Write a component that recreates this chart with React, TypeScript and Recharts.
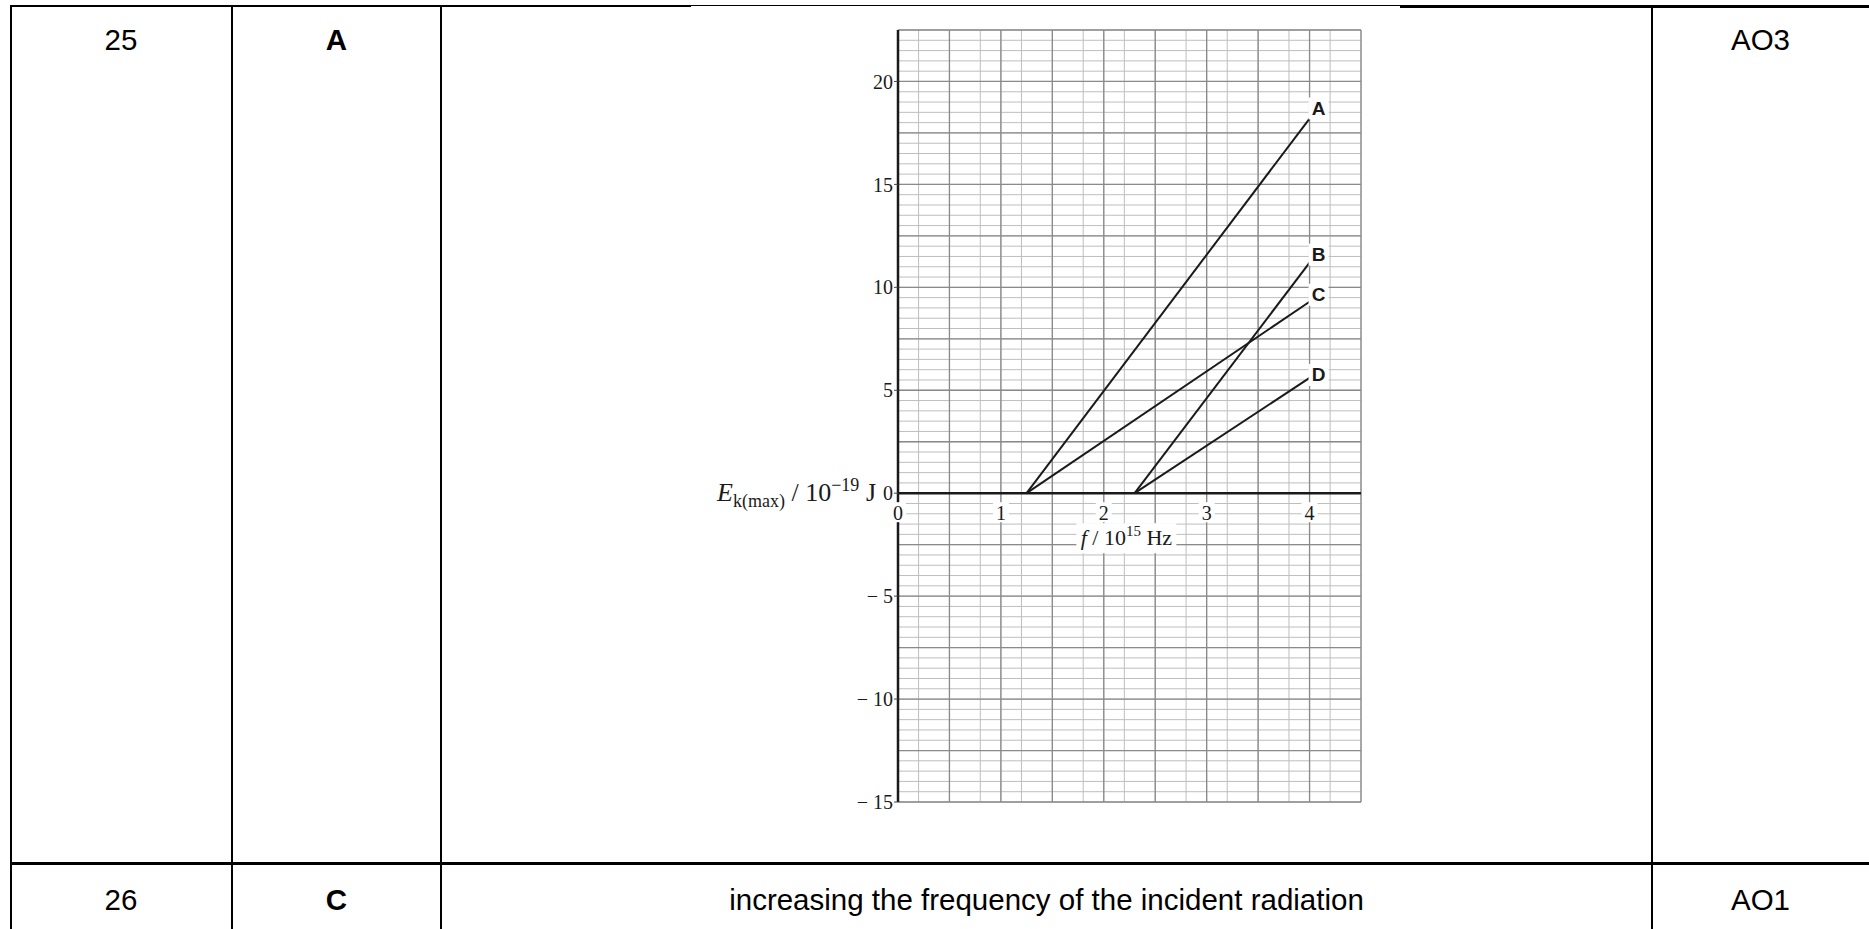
import React from 'react';
import {
  ComposedChart,
  Line,
  XAxis,
  YAxis,
  CartesianGrid,
  ReferenceLine,
  ReferenceDot,
} from 'recharts';

// graph data: E_k(max) vs f for four metals, straight lines from threshold to f = 4
const seriesNames = ['A', 'B', 'C', 'D'];
const thresholdFreq = [1.25, 2.3, 1.25, 2.3];
const endFreq = [4, 4, 4, 4];
const endEnergy = [18.2, 11.2, 9.3, 5.6];

const yTicks = [-15, -10, -5, 0, 5, 10, 15, 20];
const xTickLabels = [0, 1, 2, 3, 4];

// table contents
const questionNumbers = ['25', '26'];
const answers = ['A', 'C'];
const guidance = ['', 'increasing the frequency of the incident radiation'];
const objectives = ['AO3', 'AO1'];

const X_DOMAIN: [number, number] = [0, 4.5];
const Y_DOMAIN: [number, number] = [-15, 22.5];

const steps = (from: number, to: number, step: number) => {
  const out: number[] = [];
  const n = Math.round((to - from) / step);
  for (let i = 0; i <= n; i++) out.push(+(from + i * step).toFixed(2));
  return out;
};

const xMinor = steps(0, 4.5, 0.1);
const xMajor = steps(0, 4.5, 0.5);
const yMinor = steps(-15, 22.5, 0.5);
const yMajor = steps(-15, 22.5, 2.5);

const SERIF = '"Liberation Serif", "Times New Roman", serif';
const SANS = '"Liberation Sans", Arial, sans-serif';
const INK = '#1a1a1a';

const lines = seriesNames.map((name, i) => ({
  name,
  data: [
    { f: thresholdFreq[i], e: 0 },
    { f: endFreq[i], e: endEnergy[i] },
  ],
}));

const LABEL_DY: Record<string, number> = { A: -10, B: -8, C: -7, D: -3 };

const endLabel = (name: string) => (props: any) => {
  const { x, y, index } = props;
  if (index !== 1) return <g />;
  const cx = x + 9;
  const cy = y + LABEL_DY[name];
  return (
    <g>
      <rect x={cx - 10} y={cy - 11} width={20} height={22} fill="#fff" />
      <text
        x={cx}
        y={cy}
        textAnchor="middle"
        dominantBaseline="central"
        fontFamily={SANS}
        fontWeight="bold"
        fontSize={19}
        fill={INK}
      >
        {name}
      </text>
    </g>
  );
};

const formatY = (v: number) => (v < 0 ? `\u2212 ${Math.abs(v)}` : `${v}`);

function EnergyChart() {
  return (
    <ComposedChart
      width={800}
      height={820}
      margin={{ top: 20, right: 39, bottom: 28, left: 248 }}
    >
      <XAxis
        type="number"
        dataKey="f"
        domain={X_DOMAIN}
        allowDataOverflow
        hide
      />
      <YAxis
        type="number"
        domain={Y_DOMAIN}
        allowDataOverflow
        ticks={yTicks}
        interval={0}
        width={50}
        tickFormatter={formatY}
        axisLine={{ stroke: INK, strokeWidth: 2.5 }}
        tickLine={{ stroke: '#444' }}
        tickSize={4}
        tickMargin={1}
        tick={{ fill: INK, fontSize: 20, fontFamily: SERIF }}
      />
      <CartesianGrid
        verticalValues={xMinor}
        horizontalValues={yMinor}
        stroke="#bebebe"
        strokeWidth={1}
      />
      <CartesianGrid
        verticalValues={xMajor}
        horizontalValues={yMajor}
        stroke="#8a8a8a"
        strokeWidth={1.3}
      />
      <ReferenceLine y={0} stroke={INK} strokeWidth={2.5} />
      {lines.map((l) => (
        <Line
          key={l.name}
          data={l.data}
          dataKey="e"
          type="linear"
          stroke={INK}
          strokeWidth={2}
          dot={false}
          activeDot={false}
          label={endLabel(l.name)}
          isAnimationActive={false}
        />
      ))}
      {xTickLabels.map((v) => (
        <ReferenceDot
          key={v}
          x={v}
          y={0}
          r={0}
          shape={(p: any) => (
            <g>
              <rect x={p.cx - 8} y={p.cy + 9} width={16} height={20} fill="#fff" />
              <text
                x={p.cx}
                y={p.cy + 27}
                textAnchor="middle"
                fontFamily={SERIF}
                fontSize={20}
                fill={INK}
              >
                {v}
              </text>
            </g>
          )}
        />
      ))}
      <ReferenceDot
        x={0}
        y={0}
        r={0}
        shape={(p: any) => (
          <text
            x={p.cx - 22}
            y={p.cy + 8}
            textAnchor="end"
            fontFamily={SERIF}
            fontSize={26}
            fill={INK}
          >
            <tspan fontStyle="italic">E</tspan>
            <tspan fontSize={18} dy={6}>k(max)</tspan>
            <tspan dy={-6}> / 10</tspan>
            <tspan fontSize={18} dy={-10}>{'\u221219'}</tspan>
            <tspan dy={10}> J</tspan>
          </text>
        )}
      />
      <ReferenceDot
        x={2.2}
        y={0}
        r={0}
        shape={(p: any) => (
          <g>
            <rect x={p.cx - 48} y={p.cy + 30} width={100} height={30} fill="#fff" />
            <text
              x={p.cx + 2}
              y={p.cy + 52}
              textAnchor="middle"
              fontFamily={SERIF}
              fontSize={22}
              fill={INK}
            >
              <tspan fontStyle="italic">f</tspan>
              <tspan> / 10</tspan>
              <tspan fontSize={15} dy={-9}>15</tspan>
              <tspan dy={9}> Hz</tspan>
            </text>
          </g>
        )}
      />
    </ComposedChart>
  );
}

const bar = (left: number, top: number, width: number, height: number, key: string) => (
  <div
    key={key}
    style={{ position: 'absolute', left, top, width, height, background: '#000' }}
  />
);

const colCenters = [121, 336.5, 1046.5, 1760.5];
const rowCenters = [40, 900];

export default function App() {
  const cells: React.ReactNode[] = [];
  questionNumbers.forEach((q, r) => {
    const row = [q, answers[r], guidance[r], objectives[r]];
    row.forEach((txt, c) => {
      if (!txt) return;
      cells.push(
        <div
          key={`${r}-${c}`}
          style={{
            position: 'absolute',
            left: colCenters[c],
            top: rowCenters[r],
            transform: 'translate(-50%, -50%)',
            whiteSpace: 'nowrap',
            fontFamily: SANS,
            fontSize: 29.5,
            fontWeight: c === 1 ? 'bold' : 'normal',
            color: '#000',
            lineHeight: 1,
          }}
        >
          {txt}
        </div>
      );
    });
  });

  return (
    <div
      style={{
        position: 'absolute',
        left: 0,
        top: 0,
        width: 1869,
        height: 929,
        background: '#fff',
        overflow: 'hidden',
      }}
    >
      {bar(10, 5, 681, 2, 'top-l')}
      {bar(691, 5, 709, 1, 'top-m')}
      {bar(1400, 5, 469, 3, 'top-r')}
      {bar(10, 5, 2, 924, 'left')}
      {bar(231, 5, 2, 924, 'c1')}
      {bar(440, 5, 2, 924, 'c2')}
      {bar(1651, 5, 2, 924, 'c3')}
      {bar(10, 862, 1859, 3, 'row')}
      {cells}
      <div style={{ position: 'absolute', left: 600, top: 10 }}>
        <EnergyChart />
      </div>
    </div>
  );
}
